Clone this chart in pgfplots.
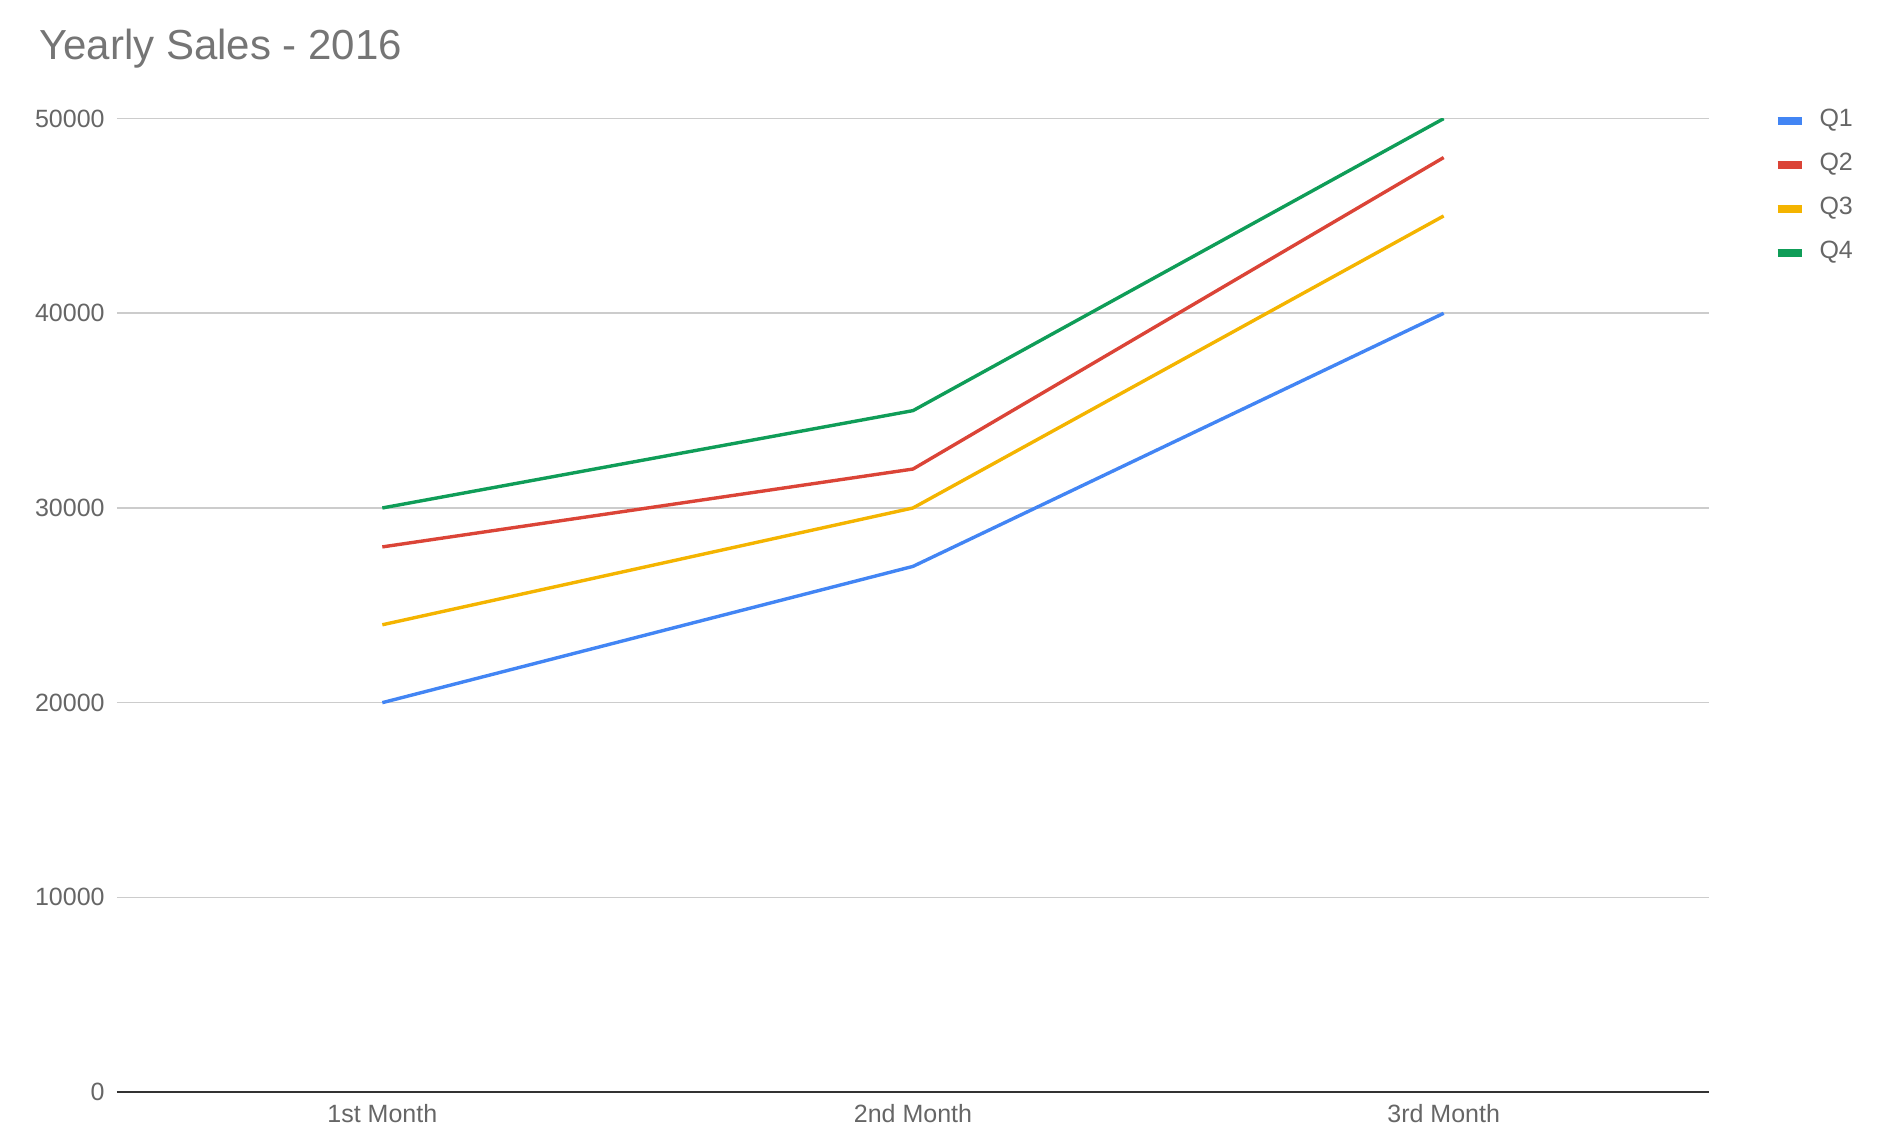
\documentclass[border=0pt]{standalone}
\usepackage{pgfplots}
\pgfplotsset{compat=1.18}
\usepackage{fontspec}
\setmainfont{Liberation Sans}
\definecolor{cQ1}{HTML}{4285F4}
\definecolor{cQ2}{HTML}{DB4437}
\definecolor{cQ3}{HTML}{F4B400}
\definecolor{cQ4}{HTML}{0F9D58}
\definecolor{gridc}{HTML}{CCCCCC}
\definecolor{txt}{HTML}{666666}
\definecolor{ttl}{HTML}{757575}
\begin{document}
\begin{tikzpicture}
\useasboundingbox (-58.5pt,-25pt) rectangle (880.5pt,546pt);
\begin{axis}[
  at={(0pt,0pt)}, anchor=south west,
  scale only axis,
  width=796pt, height=486.7pt,
  xmin=-0.5, xmax=2.5,
  ymin=0, ymax=50000,
  xtick={0,1,2},
  xticklabels={1st Month,2nd Month,3rd Month},
  ytick={0,10000,20000,30000,40000,50000},
  scaled y ticks=false,
  /pgf/number format/assume math mode=true,
  yticklabel={\pgfmathprintnumber[fixed,1000 sep={}]{\tick}},
  axis lines*=left,
  y axis line style={draw=none},
  x axis line style={draw=black!80, line width=1.2pt, -},
  major tick length=0pt,
  ymajorgrids,
  major grid style={draw=gridc, line width=0.8pt},
  tick label style={font=\fontsize{12.5}{15}\selectfont, text=txt},
  yticklabel style={inner sep=0pt, xshift=-6pt},
  xticklabel style={inner sep=0pt, yshift=-6pt},
  legend style={
    at={(1.0365,1.0145)}, anchor=north west,
    draw=none, fill=none,
    font=\fontsize{12.5}{14}\selectfont, text=txt,
    nodes={inner sep=0pt, text height=9pt, text depth=3pt, anchor=west},
    row sep=10pt,
  },
  legend cell align=left,
  legend image code/.code={\draw[#1, line width=4pt] (0pt,0pt) -- (12pt,0pt);},
  every axis plot/.append style={line width=1.7pt, line join=round},
]
\addplot[color=cQ1, mark=none] coordinates {(0,20000) (1,27000) (2,40000)};
\addlegendentry{\hspace{7pt}Q1}
\addplot[color=cQ2, mark=none] coordinates {(0,28000) (1,32000) (2,48000)};
\addlegendentry{\hspace{7pt}Q2}
\addplot[color=cQ3, mark=none] coordinates {(0,24000) (1,30000) (2,45000)};
\addlegendentry{\hspace{7pt}Q3}
\addplot[color=cQ4, mark=none] coordinates {(0,30000) (1,35000) (2,50000)};
\addlegendentry{\hspace{7pt}Q4}
\end{axis}
\node[anchor=base west, inner sep=0pt, text=ttl, font=\fontsize{21}{25}\selectfont] at (-39pt,516pt) {Yearly Sales - 2016};
\end{tikzpicture}
\end{document}
